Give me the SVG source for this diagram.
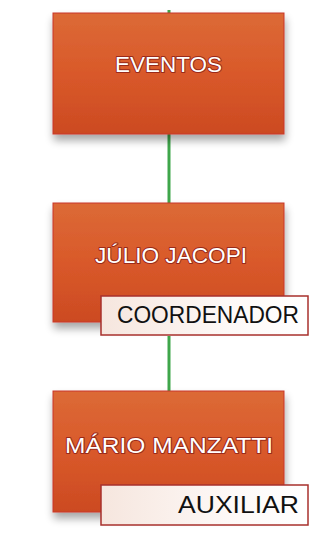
<svg xmlns="http://www.w3.org/2000/svg" width="327" height="544" viewBox="0 0 327 544">
<style>
.box{fill:url(#g);stroke:#c8372a;stroke-width:1;filter:url(#sh)}
.t{font-family:"Liberation Sans",Arial,sans-serif;font-size:22px;fill:#fff;stroke:#9a2a1a;stroke-width:2px;paint-order:stroke;stroke-linejoin:round}
.lb{fill:url(#lg);stroke:#a8302c;stroke-width:1.5}
.lt{font-family:"Liberation Sans",Arial,sans-serif;font-size:24px;fill:#111}
.c{stroke:#3fa64a;stroke-width:3;fill:none}
</style>
<defs>
<linearGradient id="g" x1="0" y1="0" x2="0" y2="1">
<stop offset="0" stop-color="#dc6a36"/>
<stop offset="0.5" stop-color="#d9592a"/>
<stop offset="1" stop-color="#cc4a22"/>
</linearGradient>
<linearGradient id="lg" x1="0" y1="0" x2="1" y2="0">
<stop offset="0" stop-color="#f6e6de"/>
<stop offset="0.6" stop-color="#fdf8f6"/>
<stop offset="1" stop-color="#ffffff"/>
</linearGradient>
<filter id="sh" x="-10%" y="-10%" width="125%" height="135%">
<feGaussianBlur in="SourceAlpha" stdDeviation="4"/>
<feOffset dx="1" dy="6" result="b"/>
<feComponentTransfer><feFuncA type="linear" slope="0.35"/></feComponentTransfer>
<feMerge><feMergeNode/><feMergeNode in="SourceGraphic"/></feMerge>
</filter>
</defs>
<rect width="327" height="544" fill="#fff"/>
<g id="connectors">
<line class="c" x1="169" y1="10" x2="169" y2="14"/>
<line class="c" x1="169" y1="134" x2="169" y2="203"/>
<line class="c" x1="169" y1="336" x2="169" y2="391"/>
</g>
<g id="eventos">
<rect class="box" x="53" y="13" width="231" height="121"/>
<text class="t" x="115" y="72" textLength="107" lengthAdjust="spacingAndGlyphs">EVENTOS</text>
</g>
<g id="julio">
<rect class="box" x="53" y="203" width="231" height="119"/>
<text class="t" x="95" y="263" textLength="152" lengthAdjust="spacingAndGlyphs">JÚLIO JACOPI</text>
<g id="coordenador">
<rect class="lb" x="101" y="296" width="207" height="39"/>
<text class="lt" x="117" y="323" textLength="182" lengthAdjust="spacingAndGlyphs">COORDENADOR</text>
</g>
</g>
<g id="mario">
<rect class="box" x="53" y="391" width="231" height="121"/>
<text class="t" x="65" y="453" textLength="208" lengthAdjust="spacingAndGlyphs">MÁRIO MANZATTI</text>
<g id="auxiliar">
<rect class="lb" x="101" y="485" width="207" height="40"/>
<text class="lt" x="178" y="513" textLength="121" lengthAdjust="spacingAndGlyphs">AUXILIAR</text>
</g>
</g>
</svg>
